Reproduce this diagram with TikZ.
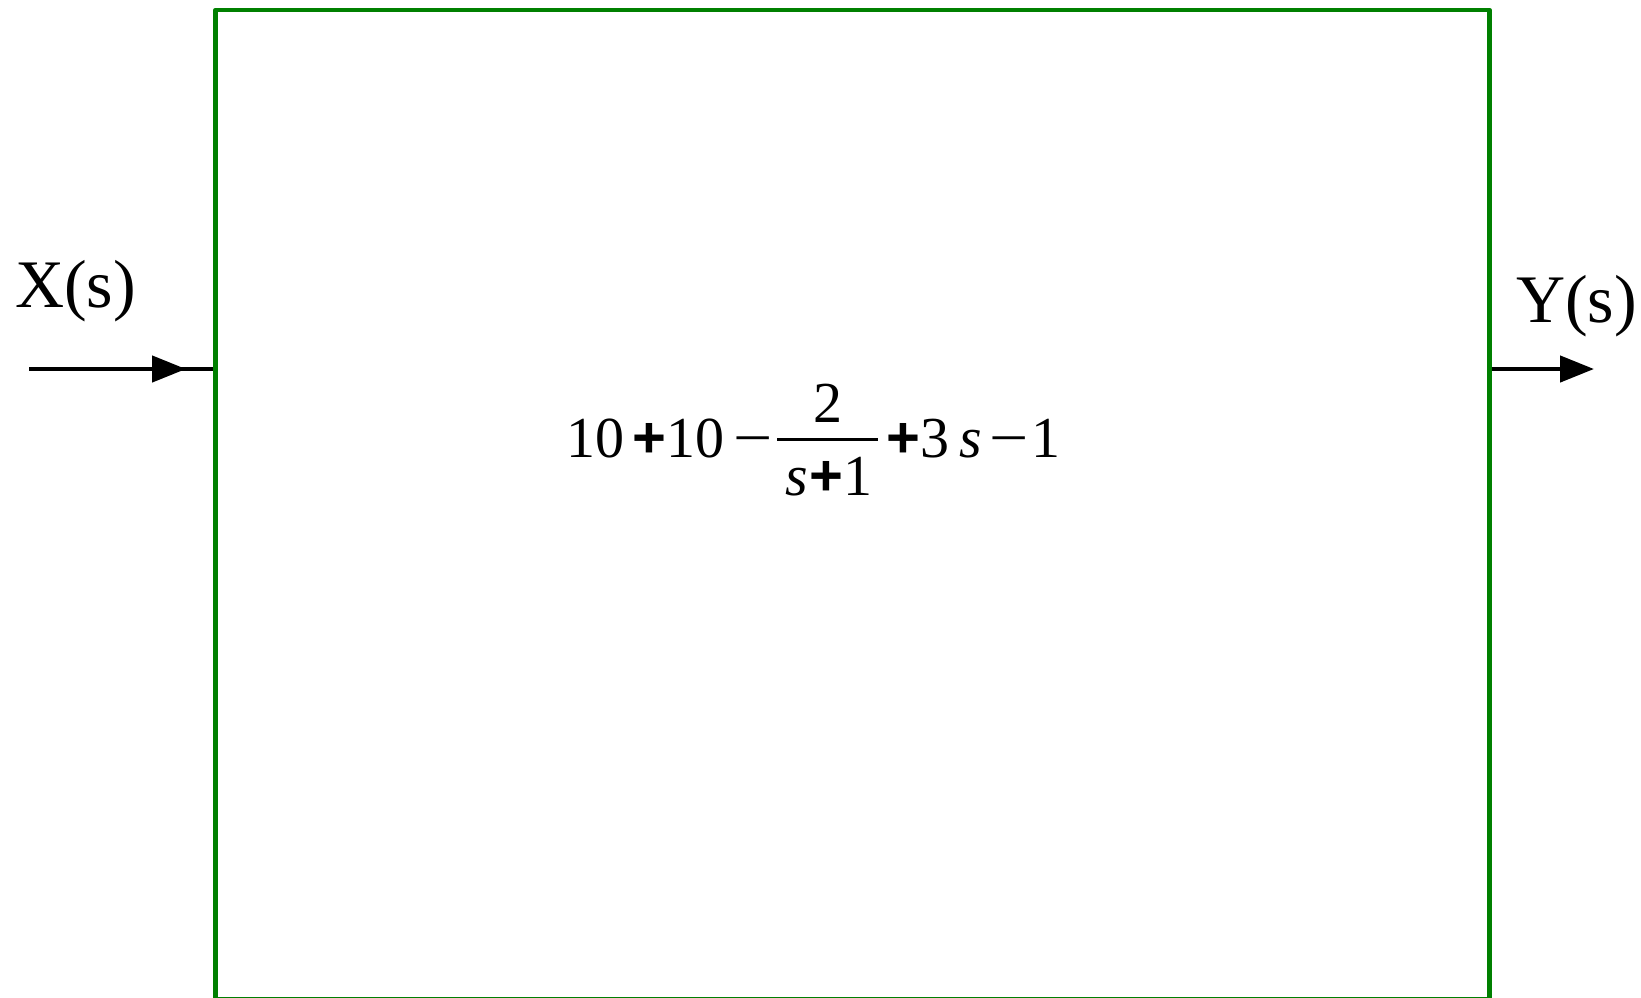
\documentclass[tikz,border=0pt]{standalone}
\usepackage{graphicx}
\usepackage{fontspec}
\setmainfont{Liberation Serif}
\newfontfamily\opsym{Liberation Sans}
\usetikzlibrary{arrows.meta}
\definecolor{boxgreen}{RGB}{0,128,0}
\newcommand\bplus{{\opsym\bfseries +}}
\newcommand\bminus{\scalebox{1.2}[1]{−}}
\begin{document}
\begin{tikzpicture}[x=1pt,y=-1pt,
  blockbox/.style={draw=boxgreen,line width=4.5pt,line join=round,inner sep=0pt,minimum width=1274pt,minimum height=989pt},
  sig/.style={line width=4.5pt,black},
  sigarrow/.style={sig,-{Triangle[length=34pt,width=26pt]}},
  lbl/.style={inner sep=0pt,anchor=base west,font=\fontsize{68}{68}\selectfont},
  eq/.style={inner sep=0pt,font=\fontsize{58}{58}\selectfont}]
\useasboundingbox (0,0) rectangle (1641,997);
\node[blockbox] (box) at (852.5,504.5) {};
% input
\coordinate (xin) at (29,369);
\coordinate (xtip) at (186,369);
\coordinate (xend) at (box.west |- xin);
\draw[sig] (xin) -- (xend);
\draw[sigarrow] (xin) -- (xtip);
\node[lbl] (xl) at (15,307) {X(s)};
% output
\coordinate (yst) at (box.east |- xin);
\coordinate (ytip) at (1594,369);
\draw[sigarrow] (yst) -- (ytip);
\node[lbl] (yl) at (1516,322) {Y(s)};
% formula
\node[eq,anchor=base west] (eqa) at (566,457) {10\hspace{8pt}\bplus\hspace{0pt}10\hspace{9pt}\bminus};
\node[eq,anchor=base] (num) at (827.5,422) {2};
\node[eq,anchor=base] (den) at (829,495) {\textit{s}\hspace{2pt}\bplus 1};
\coordinate (barl) at (777,439);
\coordinate (barr) at (878,439);
\draw[line width=3pt] (barl) -- (barr);
\node[eq,anchor=base west] (eqb) at (886,457) {\bplus 3\hspace{10pt}\textit{s}\hspace{8pt}\bminus\hspace{3pt}1};
\end{tikzpicture}
\end{document}
